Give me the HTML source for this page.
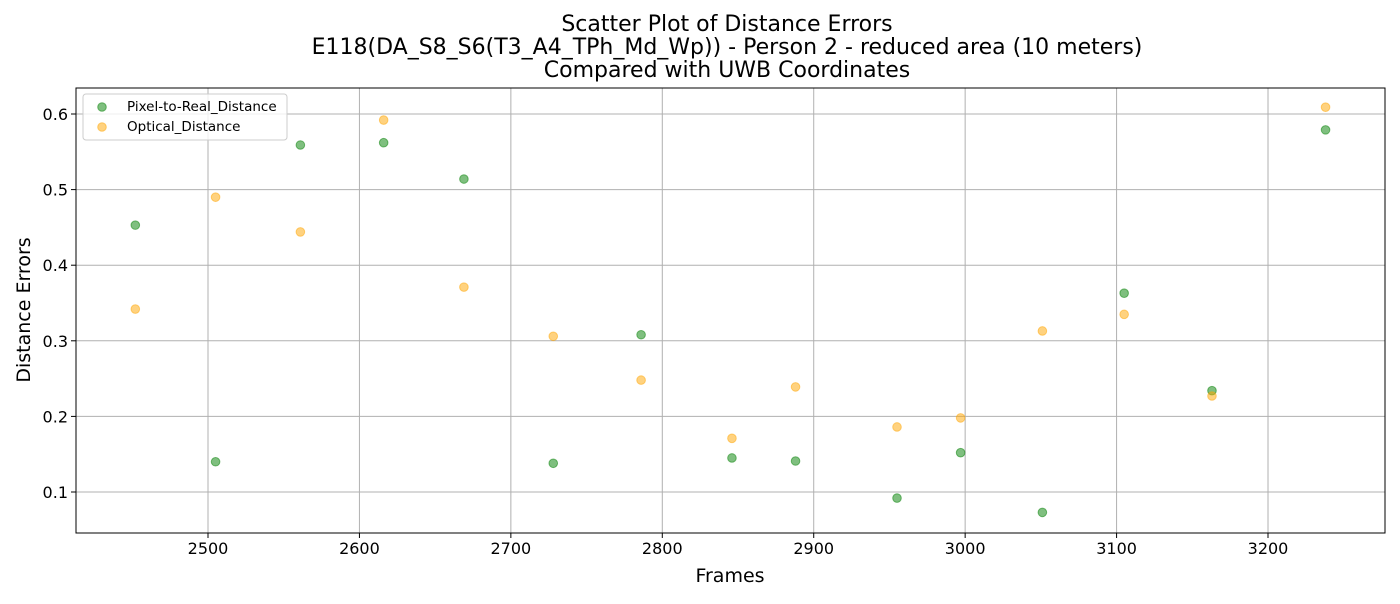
<!DOCTYPE html>
<html><head><meta charset="utf-8"><style>
body{margin:0;background:#fff;font-family:"DejaVu Sans","Liberation Sans",sans-serif}
</style></head><body>
<svg id="chart" width="1400" height="600" xmlns="http://www.w3.org/2000/svg" font-family="DejaVu Sans, Liberation Sans, sans-serif"></svg>
<script>
const frames=[2452,2505,2561,2616,2669,2728,2786,2846,2888,2955,2997,3051,3105,3163,3238];
const pixelToReal=[0.453,0.140,0.559,0.562,0.514,0.138,0.308,0.145,0.141,0.092,0.152,0.073,0.363,0.234,0.579];
const optical=[0.342,0.490,0.444,0.592,0.371,0.306,0.248,0.171,0.239,0.186,0.198,0.313,0.335,0.227,0.609];
const xTicks=[2500,2600,2700,2800,2900,3000,3100,3200];
const yTicks=[0.1,0.2,0.3,0.4,0.5,0.6];
const seriesNames=["Pixel-to-Real_Distance","Optical_Distance"];

const L=76,R=1385,T=88,B=533;
const sx=v=>208+(v-2500)*1.5143;
const sy=v=>114+(0.6-v)*756;
const svg=document.getElementById('chart');
const NS='http://www.w3.org/2000/svg';
function mk(tag,attrs,parent){const e=document.createElementNS(NS,tag);for(const k in attrs)e.setAttribute(k,attrs[k]);(parent||svg).appendChild(e);return e;}

const grid=mk('g',{});


xTicks.forEach(t=>{const x=sx(t);
 mk('line',{x1:x,x2:x,y1:T,y2:B,stroke:'#b0b0b0','stroke-width':1},grid);
 mk('line',{x1:x,x2:x,y1:B,y2:B+5,stroke:'#000'},grid);
 const tx=mk('text',{x:x,y:B+21,'text-anchor':'middle','font-size':16},grid);tx.textContent=t;
 
 
});
yTicks.forEach(t=>{const y=sy(t);
 mk('line',{x1:L,x2:R,y1:y,y2:y,stroke:'#b0b0b0','stroke-width':1},grid);
 mk('line',{x1:L-5,x2:L,y1:y,y2:y,stroke:'#000'},grid);
 const tx=mk('text',{x:L-8,y:y+6,'text-anchor':'end','font-size':16},grid);tx.textContent=t.toFixed(1);
 
 
});
const frame=mk('rect',{x:L,y:T,width:R-L,height:B-T,fill:'none',stroke:'#000','stroke-width':1});



function pts(vals,fill,edge,name){
 const g=mk('g',{});
 
 
 vals.forEach((v,i)=>{const c=mk('circle',{cx:sx(frames[i]),cy:sy(v),r:4.3,fill:fill,'fill-opacity':0.5,stroke:edge,'stroke-opacity':0.5,'stroke-width':1},g);
  
  });
}
pts(pixelToReal,'#008000','#008000','pixel-to-real-series');
pts(optical,'#ffa500','#ffa500','optical-series');

const titles=["Scatter Plot of Distance Errors","E118(DA_S8_S6(T3_A4_TPh_Md_Wp)) - Person 2 - reduced area (10 meters)","Compared with UWB Coordinates"];
titles.forEach((s,i)=>{const t=mk('text',{x:727,y:31+i*23,'text-anchor':'middle','font-size':22});t.textContent=s;
 
 });
const xl=mk('text',{x:730,y:582,'text-anchor':'middle','font-size':19});xl.textContent='Frames';


const yl=mk('text',{x:0,y:0,'text-anchor':'middle','font-size':19,transform:'translate(30,310) rotate(-90)'});yl.textContent='Distance Errors';



const lg=mk('g',{});


mk('rect',{x:83,y:94,width:204,height:46,rx:3,fill:'#fff','fill-opacity':0.8,stroke:'#ccc'},lg);
[['#008000',seriesNames[0]],['#ffa500',seriesNames[1]]].forEach((d,i)=>{
 mk('circle',{cx:102,cy:107+i*20,r:4.3,fill:d[0],'fill-opacity':0.5,stroke:d[0],'stroke-opacity':0.5},lg);
 const t=mk('text',{x:127,y:111+i*20,'font-size':13.5},lg);t.textContent=d[1];
 
 
});
</script>
</body></html>
